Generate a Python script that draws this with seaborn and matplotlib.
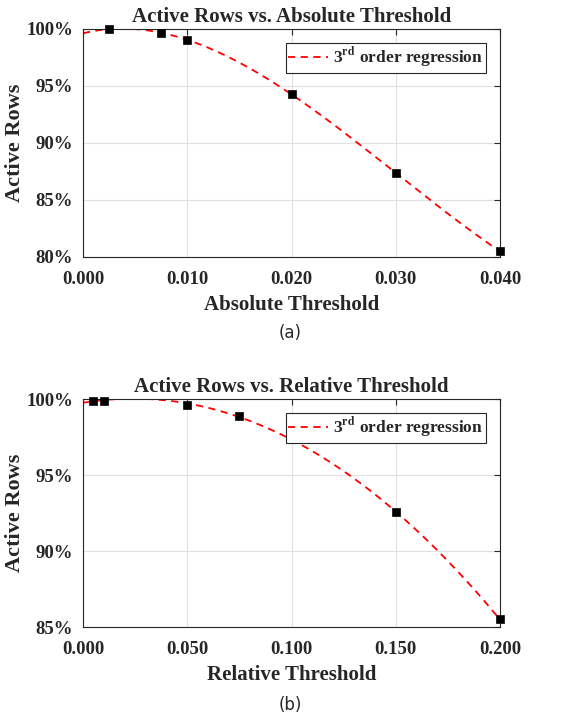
import numpy as np
import pandas as pd
import matplotlib
matplotlib.use('Agg')
import matplotlib.pyplot as plt
import seaborn as sns
from matplotlib.ticker import PercentFormatter, FormatStrFormatter

# data
abs_thresh = [0.0025, 0.0075, 0.010, 0.020, 0.030, 0.040]
abs_active = [100.0, 99.65, 99.03, 94.3, 87.35, 80.5]
rel_thresh = [0.005, 0.010, 0.050, 0.075, 0.100, 0.150, 0.200]
rel_active = [99.9, 99.9, 99.63, 98.88, 97.36, 92.55, 85.5]

sns.set_style('whitegrid')
plt.rcParams['font.family'] = ['Liberation Serif', 'DejaVu Serif']
plt.rcParams['font.weight'] = 'bold'
plt.rcParams['mathtext.fontset'] = 'stix'

fig = plt.figure(figsize=(5.74, 7.17), dpi=100)
ax1 = fig.add_axes([0.1446, 0.6416, 0.7265, 0.318])
ax2 = fig.add_axes([0.1446, 0.1255, 0.7265, 0.318])


def draw(ax, x, y, xmax, ylo, yticks, xticks, title, xlabel):
    coef = np.polyfit(x, y, 3)
    xs = np.linspace(0, xmax, 200)
    fit = pd.DataFrame({'x': xs, 'y': np.polyval(coef, xs)})
    sns.lineplot(data=fit, x='x', y='y', ax=ax, color='red', lw=1.3,
                 linestyle=(0, (4, 3)), label=r'3$^{\mathbf{rd}}$ order regression')
    pts = pd.DataFrame({'x': x, 'y': y})
    sns.scatterplot(data=pts, x='x', y='y', ax=ax, marker='s', s=36,
                    color='black', edgecolor='black', zorder=5, clip_on=False)
    ax.set_xlim(0, xmax)
    ax.set_ylim(ylo, 100)
    ax.set_xticks(xticks)
    ax.set_yticks(yticks)
    ax.xaxis.set_major_formatter(FormatStrFormatter('%.3f'))
    ax.yaxis.set_major_formatter(PercentFormatter(decimals=0))
    ax.tick_params(direction='in', length=4, top=True, right=True,
                   labelsize=13.5, colors='#262626')
    ax.tick_params(axis='x', pad=10)
    ax.tick_params(axis='y', pad=7)
    for lab in ax.get_xticklabels() + ax.get_yticklabels():
        lab.set_fontweight('bold')
    ax.grid(True, color='#e0e0e0', lw=0.8)
    for s in ax.spines.values():
        s.set_color('#262626')
        s.set_linewidth(0.8)
    ax.set_title(title, fontsize=15, fontweight='bold', pad=5)
    ax.set_xlabel(xlabel, fontsize=15, fontweight='bold', color='#262626', labelpad=5)
    ax.set_ylabel('Active Rows', fontsize=16, fontweight='bold', color='#262626', labelpad=1)
    leg = ax.legend(loc='upper right', fontsize=12.5, frameon=True, fancybox=False,
                    framealpha=1, edgecolor='#262626', handlelength=2.3,
                    handletextpad=0.3, borderpad=0.15, borderaxespad=0.8)
    leg.get_frame().set_linewidth(0.8)


draw(ax1, abs_thresh, abs_active, 0.040, 80, [80, 85, 90, 95, 100],
     [0.0, 0.01, 0.02, 0.03, 0.04], 'Active Rows vs. Absolute Threshold',
     'Absolute Threshold')
draw(ax2, rel_thresh, rel_active, 0.200, 85, [85, 90, 95, 100],
     [0.0, 0.05, 0.10, 0.15, 0.20], 'Active Rows vs. Relative Threshold',
     'Relative Threshold')

fig.text(0.505, 0.5356, '(a)', ha='center', va='center', fontsize=12,
         family='DejaVu Sans', fontweight='normal')
fig.text(0.505, 0.017, '(b)', ha='center', va='center', fontsize=12,
         family='DejaVu Sans', fontweight='normal')

fig.savefig('out.png', dpi=100)
